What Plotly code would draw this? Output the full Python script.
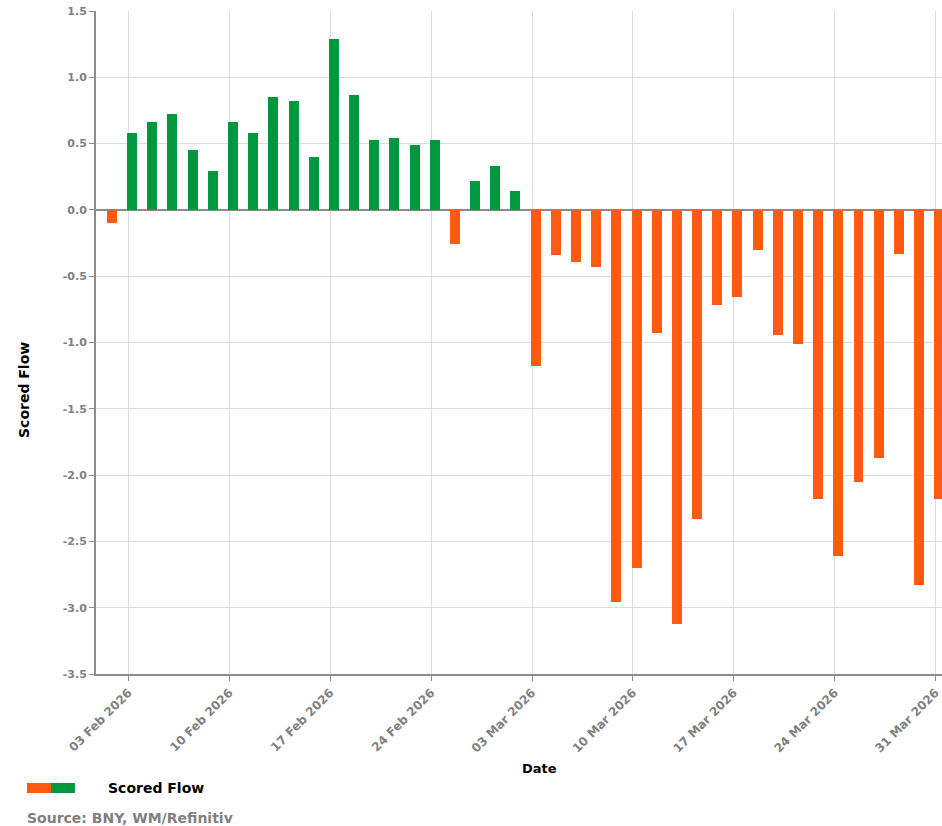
import plotly.graph_objects as go

# ---- data ----
dates = [
    "2026-02-02", "2026-02-03", "2026-02-04", "2026-02-05", "2026-02-06",
    "2026-02-09", "2026-02-10", "2026-02-11", "2026-02-12", "2026-02-13",
    "2026-02-16", "2026-02-17", "2026-02-18", "2026-02-19", "2026-02-20",
    "2026-02-23", "2026-02-24", "2026-02-25", "2026-02-26", "2026-02-27",
    "2026-03-02", "2026-03-03", "2026-03-04", "2026-03-05", "2026-03-06",
    "2026-03-09", "2026-03-10", "2026-03-11", "2026-03-12", "2026-03-13",
    "2026-03-16", "2026-03-17", "2026-03-18", "2026-03-19", "2026-03-20",
    "2026-03-23", "2026-03-24", "2026-03-25", "2026-03-26", "2026-03-27",
    "2026-03-30", "2026-03-31",
]
scored_flow = [
    -0.10, 0.58, 0.66, 0.72, 0.45,
    0.29, 0.66, 0.58, 0.85, 0.82,
    0.40, 1.29, 0.87, 0.53, 0.54,
    0.49, 0.53, -0.26, 0.22, 0.33,
    0.14, -1.18, -0.34, -0.39, -0.43,
    -2.96, -2.70, -0.93, -3.12, -2.33,
    -0.72, -0.66, -0.30, -0.94, -1.01,
    -2.18, -2.61, -2.05, -1.87, -0.33,
    -2.83, -2.18,
]
tick_dates = [
    "2026-02-03", "2026-02-10", "2026-02-17", "2026-02-24",
    "2026-03-03", "2026-03-10", "2026-03-17", "2026-03-24", "2026-03-31",
]
y_tick_vals = [1.5, 1.0, 0.5, 0.0, -0.5, -1.0, -1.5, -2.0, -2.5, -3.0, -3.5]
y_tick_text = ["1.5", "1.0", "0.5", "0.0", "-0.5", "-1.0", "-1.5", "-2.0",
               "-2.5", "-3.0", "-3.5"]
series_name = "Scored Flow"
x_title = "Date"
y_title = "Scored Flow"
source_text = "Source: BNY, WM/Refinitiv"

# ---- style ----
POS = "#00983F"
NEG = "#FF5A12"
FONT = "DejaVu Sans"
W, H = 942, 826
ML, MR, MT, MB = 96, 0, 11, 152
PW, PH = W - ML - MR, H - MT - MB
DAY = 86400000


def px(x):
    return (x - ML) / PW


def py(y):
    return (H - MB - y) / PH


colors = [POS if v >= 0 else NEG for v in scored_flow]

fig = go.Figure()
fig.add_trace(go.Bar(
    x=dates, y=scored_flow, name=series_name,
    marker=dict(color=colors, line=dict(width=0)),
    width=0.495 * DAY, offset=-0.067 * DAY,
    showlegend=False,
))

fig.update_layout(
    width=W, height=H,
    margin=dict(l=ML, r=MR, t=MT, b=MB, autoexpand=False),
    paper_bgcolor="white", plot_bgcolor="white",
    font=dict(family=FONT),
    bargap=0,
    xaxis=dict(
        type="date",
        range=["2026-01-30 09:22", "2026-03-31 07:40"],
        rangebreaks=[dict(bounds=["sat", "mon"])],
        tickvals=tick_dates, tickformat="%d %b %Y", tickangle=-45,
        tickfont=dict(family=FONT, size=12, color="#808080", weight="bold"),
        showgrid=True, gridcolor="#dcdcdc", gridwidth=1,
        showline=True, linecolor="#8c8c8c", linewidth=2,
        ticks="outside", ticklen=5, tickcolor="#8c8c8c", tickwidth=1,
        zeroline=False,
    ),
    yaxis=dict(
        range=[-3.5, 1.5],
        tickmode="array", tickvals=y_tick_vals, ticktext=y_tick_text,
        tickfont=dict(family=FONT, size=11, color="#808080", weight="bold"),
        showgrid=True, gridcolor="#dcdcdc", gridwidth=1,
        showline=True, linecolor="#8c8c8c", linewidth=2,
        ticks="outside", ticklen=5, tickcolor="#8c8c8c", tickwidth=1,
        zeroline=True, zerolinecolor="#8c8c8c", zerolinewidth=1.5,
    ),
)

annotations = [
    dict(text=x_title, x=px(539), y=py(768), xref="paper", yref="paper",
         showarrow=False, xanchor="center", yanchor="middle",
         font=dict(family=FONT, size=13, color="black", weight="bold")),
    dict(text=y_title, x=px(24), y=py(390), xref="paper", yref="paper",
         showarrow=False, xanchor="center", yanchor="middle", textangle=-90,
         font=dict(family=FONT, size=14, color="black", weight="bold")),
    dict(text=series_name, x=px(106), y=py(788), xref="paper", yref="paper",
         showarrow=False, xanchor="left", yanchor="middle",
         font=dict(family=FONT, size=14, color="black", weight="bold")),
    dict(text=source_text, x=px(25), y=py(818), xref="paper", yref="paper",
         showarrow=False, xanchor="left", yanchor="middle",
         font=dict(family=FONT, size=14, color="#808080", weight="bold")),
]
fig.update_layout(annotations=annotations)

shapes = [
    dict(type="rect", xref="paper", yref="paper", x0=px(27), x1=px(51),
         y0=py(793), y1=py(783), fillcolor=NEG, line=dict(width=0)),
    dict(type="rect", xref="paper", yref="paper", x0=px(51), x1=px(75),
         y0=py(793), y1=py(783), fillcolor=POS, line=dict(width=0)),
]
fig.update_layout(shapes=shapes)

fig.write_html(
    "out.html",
    config={"displayModeBar": False},
    post_script="document.body.style.margin='0';document.body.style.overflow='hidden';",
)
